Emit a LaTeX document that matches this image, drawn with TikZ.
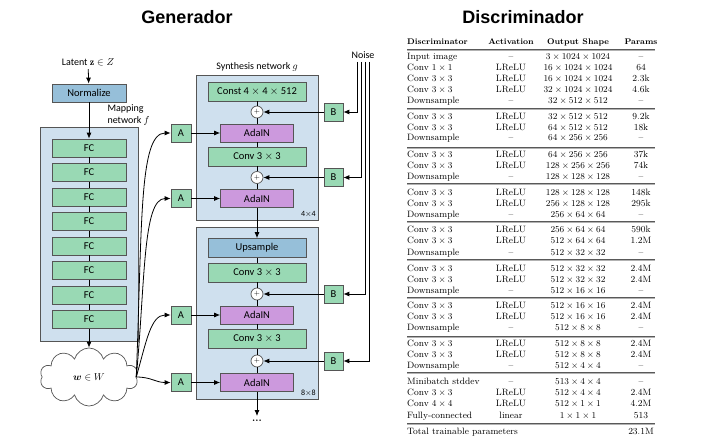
\documentclass[tikz,border=0pt]{standalone}
\usepackage{amsmath}
\usepackage{amssymb}
\usepackage{fontspec}
\usetikzlibrary{shapes.symbols,arrows.meta,positioning}
\newfontfamily\carl{Carlito}
\newfontfamily\headfont{Liberation Sans}
\definecolor{boxgreen}{RGB}{153,217,180}
\definecolor{boxpurple}{RGB}{204,153,221}
\definecolor{boxblue}{RGB}{150,191,217}
\definecolor{panelblue}{RGB}{207,224,238}
\definecolor{edgegray}{RGB}{85,85,85}

\begin{document}
\begin{tikzpicture}[x=1pt,y=-1pt,
    panel/.style={draw=edgegray,fill=panelblue,line width=0.7pt},
    blk/.style={draw=edgegray,line width=0.7pt,inner sep=0pt,font=\carl\fontsize{10.5}{12}\selectfont},
    fcbox/.style={blk,fill=boxgreen,minimum width=74pt,minimum height=18pt},
    normbox/.style={blk,fill=boxblue,minimum width=74pt,minimum height=18pt},
    convbox/.style={blk,fill=boxgreen,minimum width=98pt,minimum height=19pt},
    upbox/.style={blk,fill=boxblue,minimum width=98pt,minimum height=19pt},
    adabox/.style={blk,fill=boxpurple,minimum width=73pt,minimum height=18pt},
    abox/.style={blk,fill=boxgreen,minimum width=20pt,minimum height=18pt},
    plusnode/.style={circle,draw=edgegray,fill=white,minimum size=12pt,inner sep=0pt,line width=0.7pt,font=\fontsize{7}{7}\selectfont},
    arr/.style={-{Latex[length=6pt,width=5pt]},line width=0.8pt},
    lnk/.style={line width=0.8pt},
    lbl/.style={font=\carl\fontsize{10}{12}\selectfont},
    res/.style={font=\carl\fontsize{8}{9}\selectfont,inner sep=1pt},
    title/.style={font=\headfont\bfseries\fontsize{18}{20}\selectfont},
    tab/.style={font=\fontsize{9.2}{11}\selectfont,inner sep=0pt,text height=6.5pt,text depth=2pt},
    tabhead/.style={font=\bfseries\fontsize{8.2}{10}\selectfont,inner sep=0pt,text height=6.5pt,text depth=2pt},
    rulea/.style={draw=black!65,line width=0.7pt},
    ruleb/.style={draw=black!30,line width=0.7pt}]

\fill[white] (0,0) rectangle (705,441);
\useasboundingbox (0,0) rectangle (705,441);

% titles
\node[title] (gen) at (187,17) {Generador};
\node[title] (disc) at (523,17) {Discriminador};

% mapping network
\draw[panel] (40,127) rectangle (138,341);
\node[lbl] (z) at (88,62) {Latent $\mathbf{z}\in Z$};
\node[normbox] (norm) at (89,93) {Normalize};
\node[lbl,align=left,anchor=west] (maplab) at (104,115) {Mapping\\network $f$};
\foreach \i [evaluate=\i as \yy using 148+24.5*(\i-1)] in {1,...,8}
    \node[fcbox] (fc\i) at (89,\yy) {FC};
\foreach \i [count=\j from 2] in {1,...,7}
    \draw[lnk] (fc\i) -- (fc\j);
\node[cloud,cloud puffs=10,aspect=1.7,draw=edgegray,fill=white,line width=0.7pt,
    minimum width=98pt,minimum height=58pt,inner sep=0pt] (w) at (89,377) {$\boldsymbol{w}\in W$};
\draw[arr] (z) -- (norm);
\draw[arr] (norm) -- (fc1);
\draw[arr] (fc8) -- (w);

% synthesis network
\draw[panel] (196,75) rectangle (318,220);
\draw[panel] (196,227) rectangle (318,399);
\node[lbl] (synlab) at (257,67) {Synthesis network $g$};
\node[res,anchor=south east] (r4) at (317,219) {4$\times$4};
\node[res,anchor=south east] (r8) at (317,398) {8$\times$8};

\node[convbox] (const) at (257,91.5) {Const 4 $\times$ 4 $\times$ 512};
\node[plusnode] (p1) at (257,112) {$+$};
\node[adabox] (ada1) at (257,133) {AdaIN};
\node[convbox] (conv1) at (257,156.5) {Conv 3 $\times$ 3};
\node[plusnode] (p2) at (257,177.5) {$+$};
\node[adabox] (ada2) at (257,198.5) {AdaIN};

\node[upbox] (ups) at (257,248) {Upsample};
\node[convbox] (conv2) at (257,272.5) {Conv 3 $\times$ 3};
\node[plusnode] (p3) at (257,294) {$+$};
\node[adabox] (ada3) at (257,315) {AdaIN};
\node[convbox] (conv3) at (257,339) {Conv 3 $\times$ 3};
\node[plusnode] (p4) at (257,361) {$+$};
\node[adabox] (ada4) at (257,382.5) {AdaIN};
\node[inner sep=4pt,font=\bfseries] (dots) at (257,421) {...};

\draw[lnk] (const) -- (p1) -- (ada1) -- (conv1) -- (p2) -- (ada2);
\draw[arr] (ada2) -- (ups);
\draw[lnk] (ups) -- (conv2) -- (p3) -- (ada3) -- (conv3) -- (p4) -- (ada4);
\draw[arr] (ada4) -- (dots);

% styles A
\node[abox] (a1) at (181,133) {A};
\node[abox] (a2) at (181,198.5) {A};
\node[abox] (a3) at (181,315) {A};
\node[abox] (a4) at (181,382.5) {A};
\foreach \i in {1,...,4}
    \draw[arr] (a\i) -- (ada\i);
\draw[arr] (w.east) .. controls +(6,-150) and +(-32,0) .. (a1.west);
\draw[arr] (w.east) .. controls +(9,-95) and +(-28,0) .. (a2.west);
\draw[arr] (w.east) .. controls +(10,-35) and +(-20,0) .. (a3.west);
\draw[arr] (w.east) .. controls +(15,0) and +(-15,0) .. (a4.west);

% noise B
\node[lbl] (noise) at (363,55) {Noise};
\node[abox,minimum width=19pt] (b1) at (333.5,112) {B};
\node[abox,minimum width=19pt] (b2) at (333.5,177.5) {B};
\node[abox,minimum width=19pt] (b3) at (333.5,294) {B};
\node[abox,minimum width=19pt] (b4) at (333.5,361) {B};
\coordinate (n1) at (357,62);
\coordinate (n2) at (361,62);
\coordinate (n3) at (365,62);
\coordinate (n4) at (369,62);
\foreach \i in {1,...,4} {
    \draw[arr] (n\i) |- (b\i);
    \draw[arr] (b\i) -- (p\i);
}

% discriminator table
\node[tabhead,anchor=west] (hname) at (407,42) {Discriminator};
\node[tabhead] (hact) at (511,42) {Activation};
\node[tabhead] (hshape) at (578,42) {Output Shape};
\node[tabhead] (hpar) at (641,42) {Params};
\foreach \y in {49,108,147,183,221,259,297,336,372,423} {
    \draw[rulea] (407,\y) -- (655,\y);
    \draw[ruleb] (407,\y+1.2) -- (655,\y+1.2);
}
\foreach \y/\nm/\ac/\sh/\pa in {
    57/Input image/\textendash/$3\times1024\times1024$/\textendash,
    68/Conv $1\times1$/LReLU/$16\times1024\times1024$/64,
    79/Conv $3\times3$/LReLU/$16\times1024\times1024$/2.3k,
    90/Conv $3\times3$/LReLU/$32\times1024\times1024$/4.6k,
    101/Downsample/\textendash/$32\times512\times512$/\textendash,
    117/Conv $3\times3$/LReLU/$32\times512\times512$/9.2k,
    128/Conv $3\times3$/LReLU/$64\times512\times512$/18k,
    138/Downsample/\textendash/$64\times256\times256$/\textendash,
    155/Conv $3\times3$/LReLU/$64\times256\times256$/37k,
    166/Conv $3\times3$/LReLU/$128\times256\times256$/74k,
    177/Downsample/\textendash/$128\times128\times128$/\textendash,
    193/Conv $3\times3$/LReLU/$128\times128\times128$/148k,
    204/Conv $3\times3$/LReLU/$256\times128\times128$/295k,
    215/Downsample/\textendash/$256\times64\times64$/\textendash,
    230/Conv $3\times3$/LReLU/$256\times64\times64$/590k,
    241/Conv $3\times3$/LReLU/$512\times64\times64$/1.2M,
    253/Downsample/\textendash/$512\times32\times32$/\textendash,
    269/Conv $3\times3$/LReLU/$512\times32\times32$/2.4M,
    280/Conv $3\times3$/LReLU/$512\times32\times32$/2.4M,
    291/Downsample/\textendash/$512\times16\times16$/\textendash,
    306/Conv $3\times3$/LReLU/$512\times16\times16$/2.4M,
    317/Conv $3\times3$/LReLU/$512\times16\times16$/2.4M,
    328/Downsample/\textendash/$512\times8\times8$/\textendash,
    344/Conv $3\times3$/LReLU/$512\times8\times8$/2.4M,
    355/Conv $3\times3$/LReLU/$512\times8\times8$/2.4M,
    366/Downsample/\textendash/$512\times4\times4$/\textendash,
    382/Minibatch stddev/\textendash/$513\times4\times4$/\textendash,
    393/Conv $3\times3$/LReLU/$512\times4\times4$/2.4M,
    404/Conv $4\times4$/LReLU/$512\times1\times1$/4.2M,
    416/Fully-connected/linear/$1\times1\times1$/513} {
    \node[tab,anchor=west] (tn\y) at (407,\y) {\nm};
    \node[tab] (ta\y) at (511,\y) {\ac};
    \node[tab] (ts\y) at (578,\y) {\sh};
    \node[tab] (tp\y) at (641,\y) {\pa};
}
\node[tab,anchor=west] (tot) at (407,432) {Total trainable parameters};
\node[tab] (totp) at (641,432) {23.1M};

\end{tikzpicture}
\end{document}
